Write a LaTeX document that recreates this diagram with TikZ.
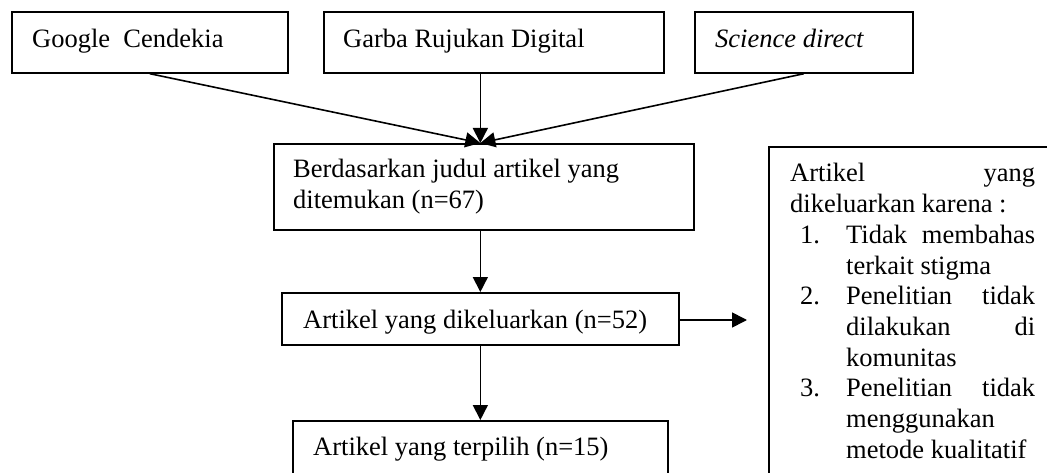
\documentclass[tikz,border=0pt]{standalone}
\usepackage{fontspec}
\setmainfont{Liberation Serif}
\usetikzlibrary{arrows.meta,calc}
\tikzset{
  box/.style={draw=black, line width=1.7pt, rectangle, inner sep=0pt, anchor=north west},
  txt/.style={inner sep=0pt, anchor=base west, font=\fontsize{26.5}{30.7}\selectfont},
  arr/.style={line width=1.6pt, -{Triangle[length=15pt,width=15pt]}}
}
\begin{document}
\begin{tikzpicture}[x=1pt,y=-1pt]
\useasboundingbox (0,0) rectangle (1047,473);
\clip (0,0) rectangle (1047,473);
% boxes
\node[box, minimum width=276pt, minimum height=61pt] (gbox) at (11,11) {};
\node[box, minimum width=340pt, minimum height=61pt] (garb) at (323,11) {};
\node[box, minimum width=218pt, minimum height=61pt] (sdir) at (694,11) {};
\node[box, minimum width=420pt, minimum height=86pt] (found) at (273,143) {};
\node[box, minimum width=397pt, minimum height=52pt] (excl) at (281,292) {};
\node[box, minimum width=375pt, minimum height=100pt] (sel) at (292,420) {};
\node[box, minimum width=330pt, minimum height=380pt] (reason) at (768,146) {};
% texts
\node[txt] (gboxt) at (32,48) {Google\ \ Cendekia};
\node[txt] (garbt) at (343,48) {Garba Rujukan Digital};
\node[txt] (sdirt) at (715,48) {\itshape Science direct};
\node[txt] (foundt) at (293,178) {\vtop{\baselineskip=31pt \lineskiplimit=-10pt
  \hbox{Berdasarkan judul artikel yang}\hbox{ditemukan (n=67)}}};
\node[txt] (exclt) at (303,328) {Artikel yang dikeluarkan (n=52)};
\node[txt] (selt) at (313,455) {Artikel yang terpilih (n=15)};
\node[txt] (reasont) at (790,182) {\vtop{\hsize=245pt \baselineskip=30.7pt \lineskiplimit=-10pt
  \hbox to\hsize{Artikel\hfill yang}
  \hbox{dikeluarkan karena :}
  \hbox to\hsize{\hbox to 56pt{\hskip10pt 1.\hfil}Tidak\hfill membahas}
  \hbox to\hsize{\hskip56pt terkait stigma\hfill}
  \hbox to\hsize{\hbox to 56pt{\hskip10pt 2.\hfil}Penelitian\hfill tidak}
  \hbox to\hsize{\hskip56pt dilakukan\hfill di}
  \hbox to\hsize{\hskip56pt komunitas\hfill}
  \hbox to\hsize{\hbox to 56pt{\hskip10pt 3.\hfil}Penelitian\hfill tidak}
  \hbox to\hsize{\hskip56pt menggunakan\hfill}
  \hbox to\hsize{\hskip56pt metode kualitatif\hfill}}};
% connectors
\coordinate (tip) at (excl.north |- found.north);
\coordinate (rtip) at (747,320);
\draw[arr] (gbox.south) -- (tip);
\draw[arr] (tip |- garb.south) -- (tip);
\draw[arr] (sdir.south) -- (tip);
\draw[arr] (excl.north |- found.south) -- (excl.north);
\draw[arr] (excl.south) -- (sel.north);
\draw[arr] (excl.east |- rtip) -- (rtip);
\end{tikzpicture}
\end{document}
